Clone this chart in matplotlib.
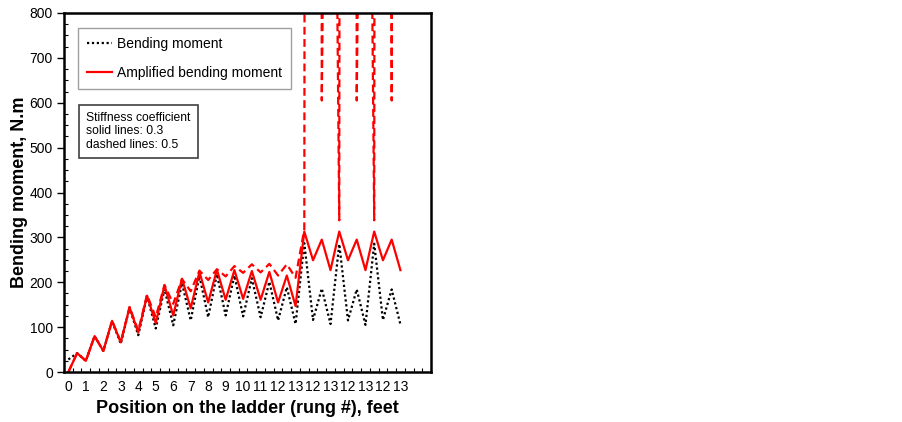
import numpy as np
import matplotlib
matplotlib.use('Agg')
import matplotlib.pyplot as plt
from matplotlib.lines import Line2D

plt.rcParams['font.family'] = ['Liberation Sans', 'DejaVu Sans']

# 横轴: 每半格一个点 (0, 0.5, 1, ... 19)
position = np.arange(39) * 0.5
rung_labels = ['0', '1', '2', '3', '4', '5', '6', '7', '8', '9', '10', '11', '12', '13',
               '12', '13', '12', '13', '12', '13']

# 弯矩
bending = [28, 42, 25, 80, 47, 113, 63, 143, 82, 169, 97, 185, 104, 198, 115, 214,
           122, 218, 126, 215, 124, 209, 122, 201, 115, 189, 107, 287, 116, 186,
           107, 285, 115, 184, 105, 286, 116, 184, 106]

# 放大弯矩, 刚度系数 0.3 (实线)
amp_03 = [0, 42, 25, 80, 47, 114, 66, 144, 88, 170, 109, 193, 126, 208, 142, 223,
          155, 228, 161, 227, 163, 225, 161, 223, 155, 215, 147, 313, 249, 295,
          227, 313, 249, 295, 227, 313, 249, 295, 227]

# 放大弯矩, 刚度系数 0.5 (虚线)
amp_05 = [0, 42, 25, 80, 47, 114, 67, 145, 92, 172, 122, 194, 152, 207, 180, 226,
          205, 229, 213, 236, 221, 240, 222, 241, 215, 240, 210, 318, 20000, 605,
          2500, 338, 20000, 605, 2500, 338, 20000, 605, 20000]

fig = plt.figure(figsize=(9.03, 4.22), dpi=100)
ax = fig.add_axes([64 / 903, 50 / 422, 367 / 903, 359 / 422])

ax.plot(position, bending, color='black', linestyle=(0, (1, 1.2)), linewidth=1.6)
ax.plot(position, amp_03, color='#ff0000', linewidth=1.6)
ax.plot(position, amp_05, color='#ff0000', linestyle=(0, (3.5, 2)), linewidth=1.6)

ax.set_xlim(-0.25, 20.75)
ax.set_ylim(0, 800)

# 类别轴: 刻度在类别之间
ax.set_xticks(np.arange(len(rung_labels)))
ax.set_xticklabels(rung_labels)
ax.set_xticks(np.arange(-0.25, 20.8, 0.5), minor=True)
ax.tick_params(axis='x', which='major', length=0, pad=6, labelsize=10)
ax.tick_params(axis='x', which='minor', direction='in', length=3, width=0.8)

ax.set_yticks(np.arange(0, 801, 100))
ax.set_yticks(np.arange(0, 801, 25), minor=True)
ax.tick_params(axis='y', which='major', direction='out', length=5, width=1, pad=3, labelsize=10)
ax.tick_params(axis='y', which='minor', direction='in', length=3, width=0.8)

for s in ax.spines.values():
    s.set_linewidth(1.8)
    s.set_color('black')

ax.set_xlabel('Position on the ladder (rung #), feet', fontsize=13, fontweight='bold', labelpad=4)
ax.set_ylabel('Bending moment, N.m', fontsize=13, fontweight='bold', labelpad=1)

handles = [Line2D([], [], color='black', linestyle=(0, (1, 1.2)), linewidth=1.6),
           Line2D([], [], color='#ff0000', linewidth=1.6)]
leg = ax.legend(handles, ['Bending moment', 'Amplified bending moment'],
                loc='upper left', bbox_to_anchor=(14 / 367, 344 / 359),
                borderaxespad=0, fancybox=False, framealpha=1, edgecolor='#a0a0a0',
                fontsize=10, handlelength=1.8, handletextpad=0.35,
                labelspacing=1.1, borderpad=0.65)
leg.get_frame().set_linewidth(1.0)

ax.text(22 / 367, 260 / 359, 'Stiffness coefficient\nsolid lines: 0.3\ndashed lines: 0.5',
        transform=ax.transAxes, fontsize=8.7, va='top', ha='left', linespacing=1.15,
        bbox=dict(boxstyle='square,pad=0.62', fc='white', ec='#404040', lw=1.2))

fig.savefig('out.png', dpi=100)
